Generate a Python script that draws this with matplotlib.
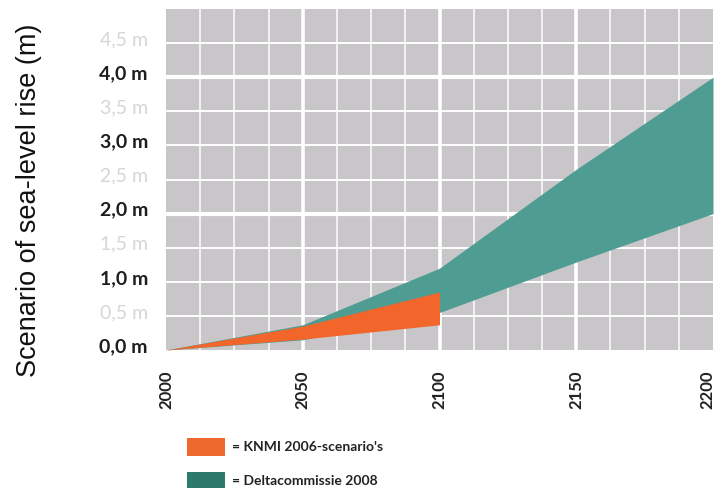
import matplotlib
matplotlib.use("Agg")
import matplotlib.pyplot as plt
import matplotlib.transforms as mtransforms
from matplotlib.patches import Rectangle

# ---- data ----
knmi_years = [2000, 2050, 2100]
knmi_low = [0.0, 0.16, 0.37]
knmi_high = [0.0, 0.35, 0.85]

delta_years = [2000, 2050, 2100, 2150, 2200]
delta_low = [0.0, 0.15, 0.55, 1.29, 2.0]
delta_high = [0.0, 0.37, 1.2, 2.65, 4.0]

x_ticks = [2000, 2050, 2100, 2150, 2200]
x_tick_labels = ["2000", "2050", "2100", "2150", "2200"]
y_ticks = [0.0, 0.5, 1.0, 1.5, 2.0, 2.5, 3.0, 3.5, 4.0, 4.5]
y_tick_labels = ["0,0 m", "0,5 m", "1,0 m", "1,5 m", "2,0 m", "2,5 m",
                 "3,0 m", "3,5 m", "4,0 m", "4,5 m"]
legend_labels = ["= KNMI 2006-scenario's", "= Deltacommissie 2008"]

ylabel = "Scenario of sea-level rise (m)"

# ---- style ----
bg = "#c8c6c8"
orange = "#f2652b"
teal = "#4f9d92"
teal_leg = "#2b7a6c"
orange_leg = "#ee6a2c"

fig = plt.figure(figsize=(7.16, 4.88), dpi=100)
ax = fig.add_axes([166/716, 1-350/488, (713-166)/716, (350-9)/488])
ax.set_facecolor(bg)
ax.set_xlim(2000, 2200)
ax.set_ylim(0, 5.0)
for s in ax.spines.values():
    s.set_visible(False)

# grid
minor_x = [2000 + 12.5*i for i in range(1, 16)]
for xv in minor_x:
    lw = 2.6 if xv in (2050, 2100, 2150) else 1.1
    ax.axvline(xv, color="white", lw=lw, zorder=1)
for yv in [0.5*i for i in range(1, 10)]:
    lw = 3.0 if yv in (2.0, 4.0) else 1.4
    ax.axhline(yv, color="white", lw=lw, zorder=1)

ax.fill_between(delta_years, delta_low, delta_high, color=teal, lw=0, zorder=2)
ax.fill_between(knmi_years, knmi_low, knmi_high, color=orange, lw=0, zorder=3)

# ticks
ax.set_xticks(x_ticks)
ax.set_xticklabels(x_tick_labels, rotation=90, fontsize=12, fontweight="bold",
                   family="Lato", color="#222222", va="top")
ax.set_yticks(y_ticks)
ax.set_yticklabels(y_tick_labels, fontsize=14, fontweight="bold", family="Lato")
ax.tick_params(axis="both", length=0)
ax.tick_params(axis="x", pad=15)
ax.tick_params(axis="y", pad=13)
xlabs = ax.get_xticklabels()
xlabs[-1].set_transform(xlabs[-1].get_transform() +
                        mtransforms.ScaledTranslation(-6/100, 0, fig.dpi_scale_trans))
for lab, yv in zip(ax.get_yticklabels(), y_ticks):
    if abs(yv - round(yv)) < 1e-6:
        lab.set_color("#1e1e1e")
    else:
        lab.set_color("#d6d6d6")
        lab.set_fontweight("normal")
    lab.set_transform(lab.get_transform() +
                      mtransforms.ScaledTranslation(0, 5/100, fig.dpi_scale_trans))

fig.text(29/716, 1-200/488, ylabel, rotation=90, ha="center", va="center",
         fontsize=19.5, family="Liberation Sans", color="#111111")

# legend
leg_items = [(orange_leg, 438, 456, legend_labels[0], 447),
             (teal_leg, 472, 490, legend_labels[1], 481)]
for col, y0, y1, txt, yc in leg_items:
    fig.patches.append(Rectangle((187/716, 1-y1/488), 38/716, (y1-y0)/488,
                                 transform=fig.transFigure, color=col, lw=0))
    fig.text(232/716, 1-yc/488, txt, ha="left", va="center", fontsize=10,
             fontweight="bold", family="Lato", color="#222222")

fig.savefig("out.png", dpi=100)
